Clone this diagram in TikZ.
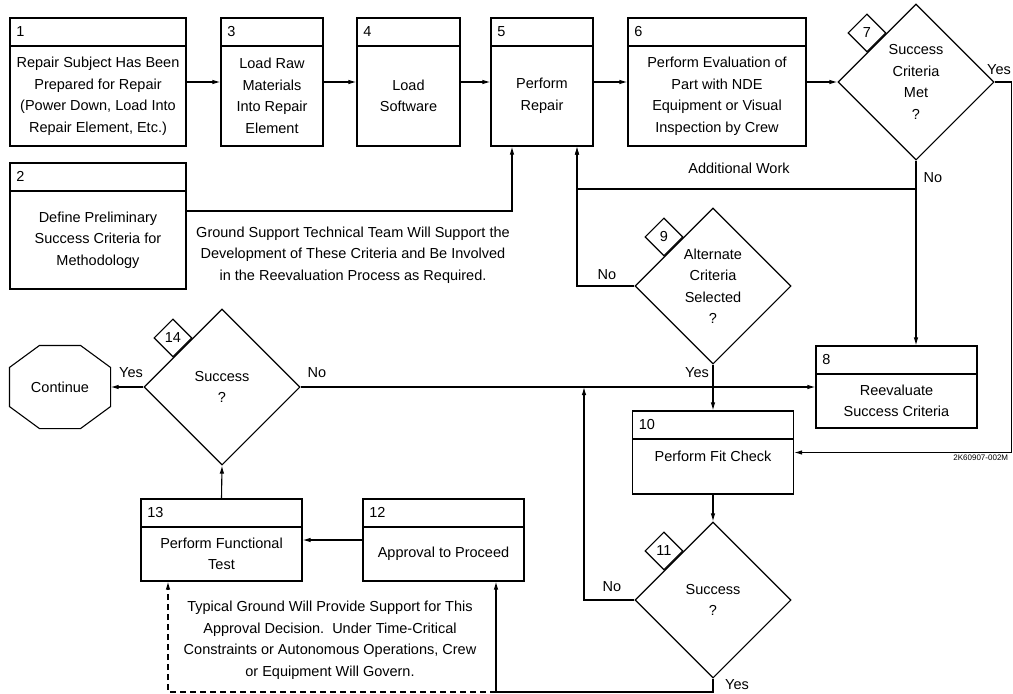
\documentclass[tikz,border=0pt]{standalone}
\usepackage{fontspec}
\setmainfont{Liberation Sans}
\usetikzlibrary{positioning,arrows.meta,shapes.geometric}

\begin{document}
\begin{tikzpicture}[x=1pt, y=-1pt, line width=1.1pt, >={Latex[length=8pt,width=4.5pt]},
    font=\fontsize{14.5pt}{21.5pt}\selectfont,
    stepbox/.style n args={3}{draw, inner sep=0pt,
      execute at begin node={\vbox to #2\bgroup\hsize=#1\parindent=0pt\centering\vskip 28pt\vfil},
      execute at end node={\endgraf\vfil\egroup},
      path picture={\draw ([yshift=-28pt]path picture bounding box.north west) -- ([yshift=-28pt]path picture bounding box.north east);},
      label={[anchor=west, xshift=3pt, yshift=-14pt]north west:#3}},
    choice/.style={draw, diamond, minimum size=156pt, inner sep=0pt, align=center},
    tag/.style={draw, diamond, minimum size=38pt, inner sep=0pt, anchor=south east},
    note/.style={align=center}]
  \useasboundingbox (0,0) rectangle (1013,694);

  \node[stepbox={176pt}{128pt}{1}] (b1) at (98,82) {Repair Subject Has Been\\Prepared for Repair\\(Power Down, Load Into\\Repair Element, Etc.)};
  \node[stepbox={102pt}{128pt}{3}] (b3) at (272,82) {Load Raw\\Materials\\Into Repair\\Element};
  \node[stepbox={103pt}{128pt}{4}] (b4) at (408.5,82) {Load\\Software};
  \node[stepbox={102pt}{128pt}{5}] (b5) at (542,82) {Perform\\Repair};
  \node[stepbox={178pt}{128pt}{6}] (b6) at (717,82) {Perform Evaluation of\\Part with NDE\\Equipment or Visual\\Inspection by Crew};
  \node[choice] (d7) at (916,82) {Success\\Criteria\\Met\\?};
  \node[tag] (n7) at (d7.north west) {7};
  \node[stepbox={176pt}{126pt}{2}] (b2) at (98,226) {Define Preliminary\\Success Criteria for\\Methodology};
  \node[choice] (d9) at (713,286) {Alternate\\Criteria\\Selected\\?};
  \node[tag] (n9) at (d9.north west) {9};
  \node[stepbox={161pt}{82pt}{8}] (b8) at (896.5,387) {Reevaluate\\Success Criteria};
  \node[stepbox={161pt}{83pt}{10}] (b10) at (713,452.5) {Perform Fit Check\\\mbox{}};
  \node[choice] (d11) at (713,600) {Success\\?};
  \node[tag] (n11) at (d11.north west) {11};
  \node[choice] (d14) at (222,387) {Success\\?};
  \node[tag] (n14) at (d14.north west) {14};
  \node[minimum width=100pt, minimum height=82pt] (cont) at (60,387) {Continue};
  \node[stepbox={161pt}{82pt}{13}] (b13) at (221.5,540) {Perform Functional\\Test};
  \node[stepbox={161pt}{82pt}{12}] (b12) at (443.5,540) {Approval to Proceed};

  \node[note] (gnd) at (353,255) {Ground Support Technical Team Will Support the\\Development of These Criteria and Be Involved\\in the Reevaluation Process as Required.};
  \node[note] (typ) at (330,640) {Typical Ground Will Provide Support for This\\Approval Decision.\ \ Under Time-Critical\\Constraints or Autonomous Operations, Crew\\or Equipment Will Govern.};
  \node[anchor=east, font=\fontsize{8pt}{10pt}\selectfont] (fig) at (1012,458) {2K60907-002M};

  \node (y7) at (999,70) {Yes};
  \node (no7) at (933,178) {No};
  \node (awl) at (739,168) {Additional Work};
  \node (no9) at (607,275) {No};
  \node (y9) at (697,373) {Yes};
  \node (no11) at (612,587) {No};
  \node (y11) at (737,685) {Yes};
  \node (y14) at (131,373) {Yes};
  \node (no14) at (317,373) {No};

  \coordinate (aw) at (916,189);
  \coordinate (j11) at (584,387);
  \coordinate (bot) at (496,692);

  \draw ([xshift=30pt]cont.north west) -- ([xshift=-30pt]cont.north east) -- ([yshift=-22pt]cont.north east)
    -- ([yshift=22pt]cont.south east) -- ([xshift=-30pt]cont.south east) -- ([xshift=30pt]cont.south west)
    -- ([yshift=22pt]cont.south west) -- ([yshift=-22pt]cont.north west) -- cycle;

  \draw[->] (b1.east) -- (b3.west);
  \draw[->] (b3.east) -- (b4.west);
  \draw[->] (b4.east) -- (b5.west);
  \draw[->] (b5.east) -- (b6.west);
  \draw[->] (b6.east) -- (d7.west);
  \draw[->] (d7.east) -- ++(17,0) |- (b10.east);
  \draw[->] (d7.south) -- (d7.south |- b8.north);
  \draw[->] (aw) -| ([xshift=35pt]b5.south);
  \draw[->] ([yshift=15pt]b2.east) -| ([xshift=-30pt]b5.south);
  \draw[->] (d9.west) -| ([xshift=35pt]b5.south);
  \draw[->] (d9.south) -- (b10.north);
  \draw[->] (b10.south) -- (d11.north);
  \draw[->] (d11.west) -| (j11);
  \draw[->] (d11.south) |- (bot) -- (bot |- b12.south);
  \draw[->, dash pattern=on 6pt off 4pt] (bot) -| ([xshift=-53.5pt]b13.south);
  \draw[->] (b12.west) -- (b13.east);
  \draw[->] (b13.north) -- (d14.south);
  \draw[->] (d14.west) -- (cont.east);
  \draw[->] (d14.east) -- (b8.west);
\end{tikzpicture}
\end{document}
